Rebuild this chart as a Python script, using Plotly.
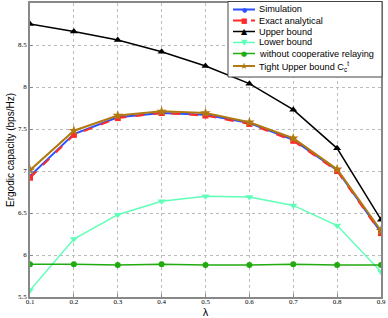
import plotly.graph_objects as go

lam = [0.1, 0.2, 0.3, 0.4, 0.5, 0.6, 0.7, 0.8, 0.9]
simulation = [6.94, 7.44, 7.64, 7.69, 7.67, 7.57, 7.37, 7.01, 6.27]
exact = [6.92, 7.43, 7.63, 7.69, 7.66, 7.56, 7.36, 7.00, 6.26]
upper = [8.75, 8.66, 8.56, 8.42, 8.25, 8.04, 7.73, 7.27, 6.42]
lower = [5.58, 6.19, 6.48, 6.64, 6.70, 6.69, 6.59, 6.35, 5.80]
no_coop = [5.89, 5.89, 5.88, 5.89, 5.88, 5.88, 5.89, 5.88, 5.88]
tight = [7.01, 7.48, 7.66, 7.71, 7.69, 7.58, 7.39, 7.02, 6.29]

names = ["Simulation", "Exact analytical", "Upper bound", "Lower bound",
         "without cooperative relaying", "Tight Upper bound C<sub>c</sub><sup>t</sup>"]
colors = ["#2a50ff", "#ff2a2a", "#000000", "#5fffb8", "#22aa11", "#b07a10"]
dashes = ["solid", "dash", "solid", "solid", "solid", "solid"]
symbols = ["circle", "square", "triangle-up", "triangle-down", "circle", "star"]
msizes = [4, 6, 7, 7, 6, 8]
lwidths = [2, 2, 1.5, 1.5, 1.5, 2]
glyphs = ["●", "■", "▲", "▼", "●", "★"]
gsizes = [6, 7, 8, 8, 7, 9]
series = [simulation, exact, upper, lower, no_coop, tight]

fig = go.Figure()
for nm, ys, c, d, s, ms, lw in zip(names, series, colors, dashes, symbols, msizes, lwidths):
    fig.add_trace(go.Scatter(x=lam, y=ys, name=nm, mode="lines+markers",
                             line=dict(color=c, width=lw, dash=d),
                             marker=dict(symbol=s, size=ms, color=c)))

# custom compact legend (paper coordinates)
W, H, L, B = 351.0, 294.0, 30.0, 297.0
px = lambda x: (x - L) / W
py = lambda y: (B - y) / H
shapes = [dict(type="rect", xref="paper", yref="paper", x0=px(228), x1=px(382), y0=py(77), y1=py(1.5),
               fillcolor="white", line=dict(color="#444444", width=1), layer="above")]
annots = []
ycent = [9.5, 20.5, 31.5, 42.5, 53.5, 66]
for yc, nm, c, d, g, gs, lw in zip(ycent, names, colors, dashes, glyphs, gsizes, lwidths):
    shapes.append(dict(type="line", xref="paper", yref="paper", x0=px(233), x1=px(255),
                       y0=py(yc), y1=py(yc), line=dict(color=c, width=lw, dash=("dash" if d == "dash" else "solid")),
                       layer="above"))
    annots.append(dict(xref="paper", yref="paper", x=px(244), y=py(yc), text=g, showarrow=False,
                       font=dict(color=c, size=gs, family="DejaVu Sans"), xanchor="center", yanchor="middle"))
    annots.append(dict(xref="paper", yref="paper", x=px(257), y=py(yc), text=nm, showarrow=False,
                       font=dict(color="black", size=9.2), xanchor="left", yanchor="middle"))

fig.update_layout(
    width=388, height=318,
    margin=dict(l=30, r=7, t=3, b=21),
    paper_bgcolor="white", plot_bgcolor="white",
    font=dict(family="Liberation Sans, Arial", size=8, color="black"),
    showlegend=False,
    shapes=shapes, annotations=annots,
)
fig.update_xaxes(range=[0.1, 0.9], tickvals=lam, ticktext=[str(v) for v in lam],
                 showgrid=True, gridcolor="#bbbbbb", griddash="dot", gridwidth=1,
                 showline=True, linecolor="#888888", linewidth=1.5, mirror=True,
                 ticks="inside", ticklen=3, tickcolor="#888888", automargin=False,
                 ticklabelstandoff=-3,
                 tickfont=dict(family="Liberation Serif", size=7),
                 title=dict(text="λ", font=dict(size=11), standoff=1), zeroline=False)
fig.update_yaxes(range=[5.5, 9], tickvals=[5.5, 6, 6.5, 7, 7.5, 8, 8.5, 9],
                 ticktext=["5.5", "6", "6.5", "7", "7.5", "8", "8.5", "9"],
                 showgrid=True, gridcolor="#bbbbbb", griddash="dot", gridwidth=1,
                 showline=True, linecolor="#888888", linewidth=1.5, mirror=True,
                 ticks="inside", ticklen=3, tickcolor="#888888", automargin=False,
                 tickfont=dict(family="Liberation Serif", size=7),
                 title=dict(text="Ergodic capacity (bps/Hz)", font=dict(size=10), standoff=2), zeroline=False)

fig.write_html("out.html", config={"displayModeBar": False},
               post_script="document.body.style.margin='0';document.body.style.overflow='hidden';")
